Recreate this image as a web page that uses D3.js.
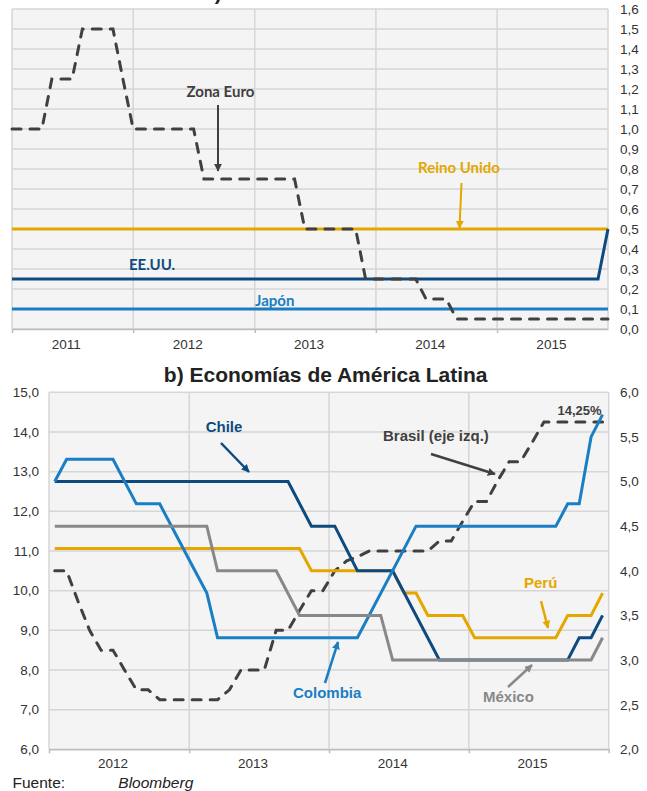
<!DOCTYPE html>
<html>
<head>
<meta charset="utf-8">
<script src="https://cdn.jsdelivr.net/npm/d3@7"></script>
<style>
  body { margin: 0; background: #fff; }
  svg { display: block; }
  .tick text { font-family: "Liberation Sans", Arial, sans-serif; font-size: 13.5px; fill: #333; }
</style>
</head>
<body>
<div id="chart"></div>
<script>
// ******************** data ********************

// a) developed economies, monthly points where the rate changes (Jan 2011 - Dec 2015)
const zonaEuro = [["2011-01", 1.0], ["2011-04", 1.0], ["2011-05", 1.25], ["2011-07", 1.25], ["2011-08", 1.5],
    ["2011-11", 1.5], ["2011-12", 1.25], ["2012-01", 1.0], ["2012-07", 1.0], ["2012-08", 0.75],
    ["2013-05", 0.75], ["2013-06", 0.5], ["2013-11", 0.5], ["2013-12", 0.25], ["2014-05", 0.25],
    ["2014-06", 0.15], ["2014-08", 0.15], ["2014-09", 0.05], ["2015-12", 0.05]];
const reinoUnido = [["2011-01", 0.5], ["2015-12", 0.5]];
const eeuu = [["2011-01", 0.25], ["2015-11", 0.25], ["2015-12", 0.5]];
const japon = [["2011-01", 0.1], ["2015-12", 0.1]];

// b) Latin America, monthly (Jan 2012 - Dec 2015); Brasil on left axis, others on right
const brasil = [["2012-01", 10.5], ["2012-02", 10.5], ["2012-03", 9.75], ["2012-04", 9.0], ["2012-05", 8.5],
    ["2012-06", 8.5], ["2012-07", 8.0], ["2012-08", 7.5], ["2012-09", 7.5], ["2012-10", 7.25],
    ["2013-03", 7.25], ["2013-04", 7.5], ["2013-05", 8.0], ["2013-07", 8.0], ["2013-08", 9.0],
    ["2013-09", 9.0], ["2013-10", 9.5], ["2013-11", 10.0], ["2013-12", 10.0], ["2014-01", 10.5],
    ["2014-02", 10.75], ["2014-03", 10.85], ["2014-04", 11.0], ["2014-09", 11.0], ["2014-10", 11.25],
    ["2014-11", 11.25], ["2014-12", 11.75], ["2015-01", 12.25], ["2015-02", 12.25], ["2015-03", 12.75],
    ["2015-04", 13.25], ["2015-05", 13.25], ["2015-06", 13.75], ["2015-07", 14.25], ["2015-12", 14.25]];
const chile = [["2012-01", 5.0], ["2013-09", 5.0], ["2013-11", 4.5], ["2014-01", 4.5], ["2014-03", 4.0],
    ["2014-06", 4.0], ["2014-10", 3.0], ["2015-09", 3.0], ["2015-10", 3.25], ["2015-11", 3.25], ["2015-12", 3.5]];
const colombia = [["2012-01", 5.0], ["2012-02", 5.25], ["2012-06", 5.25], ["2012-08", 4.75], ["2012-10", 4.75],
    ["2013-01", 4.0], ["2013-02", 3.75], ["2013-03", 3.25], ["2014-03", 3.25], ["2014-08", 4.5],
    ["2015-08", 4.5], ["2015-09", 4.75], ["2015-10", 4.75], ["2015-11", 5.5], ["2015-12", 5.75]];
const mexico = [["2012-01", 4.5], ["2013-02", 4.5], ["2013-03", 4.0], ["2013-08", 4.0], ["2013-10", 3.5],
    ["2014-05", 3.5], ["2014-06", 3.0], ["2015-11", 3.0], ["2015-12", 3.25]];
const peru = [["2012-01", 4.25], ["2013-10", 4.25], ["2013-11", 4.0], ["2014-06", 4.0], ["2014-07", 3.75],
    ["2014-08", 3.75], ["2014-09", 3.5], ["2014-12", 3.5], ["2015-01", 3.25], ["2015-08", 3.25],
    ["2015-09", 3.5], ["2015-11", 3.5], ["2015-12", 3.75]];

// axis ticks
const topYTicks = [0, 0.1, 0.2, 0.3, 0.4, 0.5, 0.6, 0.7, 0.8, 0.9, 1.0, 1.1, 1.2, 1.3, 1.4, 1.5, 1.6];
const topYears = ["2011", "2012", "2013", "2014", "2015"];
const botLeftTicks = [6, 7, 8, 9, 10, 11, 12, 13, 14, 15];
const botRightTicks = [2, 2.5, 3, 3.5, 4, 4.5, 5, 5.5, 6];
const botYears = ["2012", "2013", "2014", "2015"];

// colours
const cNavy = "#0d4a80", cBlue = "#1a7ec3", cGold = "#e3a700", cGrey = "#888888", cDash = "#404040";
const gridColor = "#d6d6d6", plotBg = "#f4f4f4";

// ******************** setup ********************
const svg = d3.select("#chart").append("svg")
    .attr("width", 647)
    .attr("height", 791);

const locale = d3.formatLocale({ decimal: ",", thousands: ".", grouping: [3], currency: ["", ""] });
const fmt1 = locale.format(".1f");
const parseMonth = d3.timeParse("%Y-%m");
const parseDay = d3.timeParse("%Y-%m-%d");

// arrow heads, one per colour
const defs = svg.append("defs");
function arrowId(color) {
    const id = "arr" + color.replace("#", "");
    if (defs.select("#" + id).empty()) {
        defs.append("marker")
            .attr("id", id)
            .attr("viewBox", "0 0 10 10")
            .attr("refX", 9).attr("refY", 5)
            .attr("markerWidth", 8).attr("markerHeight", 8)
            .attr("markerUnits", "userSpaceOnUse")
            .attr("orient", "auto")
            .append("path")
            .attr("d", "M0,0 L10,5 L0,10 Z")
            .attr("fill", color);
    }
    return "url(#" + id + ")";
}

function arrow(x1, y1, x2, y2, color, w) {
    svg.append("line")
        .attr("x1", x1).attr("y1", y1)
        .attr("x2", x2).attr("y2", y2)
        .attr("stroke", color)
        .attr("stroke-width", w)
        .attr("marker-end", arrowId(color));
}

function label(x, y, txt, color, font, size, anchor) {
    svg.append("text")
        .attr("x", x).attr("y", y)
        .attr("text-anchor", anchor || "start")
        .attr("font-family", font)
        .attr("font-weight", "bold")
        .attr("font-size", size)
        .attr("fill", color)
        .text(txt);
}

const arial = "'Liberation Sans', Arial, sans-serif";
const calibriLike = "Lato, 'Open Sans', sans-serif";

// ******************** part a) developed economies ********************
const A = { left: 12, right: 608, top: 9, bottom: 329 };

const xA = d3.scaleTime()
    .domain([parseMonth("2011-01"), parseMonth("2015-12")])
    .range([A.left, A.right]);
const yA = d3.scaleLinear().domain([0, 1.6]).range([A.bottom, A.top]);

// title: the picture is cropped just under it, only the tail of ")" shows
svg.append("text")
    .attr("x", 203).attr("y", 0)
    .attr("font-family", arial)
    .attr("font-weight", "bold")
    .attr("font-size", 21)
    .attr("fill", "#222")
    .text("a) Economías desarrolladas");

svg.append("rect")
    .attr("x", A.left).attr("y", A.top)
    .attr("width", A.right - A.left).attr("height", A.bottom - A.top)
    .attr("fill", plotBg);

// horizontal gridlines
svg.append("g").selectAll("line")
    .data(topYTicks)
    .enter().append("line")
    .attr("x1", A.left).attr("x2", A.right)
    .attr("y1", d => yA(d)).attr("y2", d => yA(d))
    .attr("stroke", gridColor).attr("stroke-width", 1.5);

// vertical gridlines at year boundaries
svg.append("g").selectAll("line")
    .data(topYears.map(y => parseMonth(y + "-01")).concat([parseMonth("2015-12")]))
    .enter().append("line")
    .attr("x1", d => xA(d)).attr("x2", d => xA(d))
    .attr("y1", A.top).attr("y2", A.bottom)
    .attr("stroke", gridColor).attr("stroke-width", 1.5);

// x axis: tick marks at year boundaries, labels mid-year
const gxA = svg.append("g")
    .attr("transform", `translate(0,${A.bottom})`)
    .call(d3.axisBottom(xA)
        .tickValues(topYears.map(y => parseMonth(y + "-01")))
        .tickSize(4).tickSizeOuter(0).tickFormat(""));
gxA.selectAll("path, line").attr("stroke", "#bdbdbd").attr("stroke-width", 1.5);

const gxAl = svg.append("g")
    .attr("transform", `translate(0,${A.bottom})`)
    .call(d3.axisBottom(xA)
        .tickValues(topYears.map(y => parseDay(y + "-06-12")))
        .tickSize(0).tickPadding(10.4).tickFormat(d3.timeFormat("%Y")));
gxAl.select(".domain").remove();

// right axis labels
const gyA = svg.append("g")
    .attr("transform", `translate(${A.right},0)`)
    .call(d3.axisRight(yA).tickValues(topYTicks).tickSize(0).tickPadding(12).tickFormat(fmt1));
gyA.select(".domain").remove();

// series
const lineA = d3.line()
    .x(d => xA(parseMonth(d[0])))
    .y(d => yA(d[1]));

svg.append("path").datum(reinoUnido)
    .attr("fill", "none").attr("stroke", cGold).attr("stroke-width", 3).attr("d", lineA);
svg.append("path").datum(eeuu)
    .attr("fill", "none").attr("stroke", cNavy).attr("stroke-width", 3).attr("d", lineA);
svg.append("path").datum(japon)
    .attr("fill", "none").attr("stroke", cBlue).attr("stroke-width", 3).attr("d", lineA);
svg.append("path").datum(zonaEuro)
    .attr("fill", "none").attr("stroke", cDash).attr("stroke-width", 3)
    .attr("stroke-dasharray", "9,9").attr("stroke-linecap", "round")
    .attr("d", lineA);

// annotations
label(186.5, 96.5, "Zona Euro", cDash, calibriLike, 15);
arrow(218, 105, 218, 171, cDash, 2);
label(418, 173, "Reino Unido", cGold, calibriLike, 15);
arrow(461.5, 183, 459.5, 228, cGold, 2);
label(129, 270, "EE.UU.", cNavy, calibriLike, 15);
label(255, 306, "Japón", cBlue, calibriLike, 15);

// ******************** part b) Latin America ********************
const B = { left: 49, right: 608.7, top: 392.3, bottom: 749.3 };

const xB = d3.scaleTime()
    .domain([parseMonth("2012-01"), parseMonth("2016-01")])
    .range([B.left, B.right]);
const yL = d3.scaleLinear().domain([6, 15]).range([B.bottom, B.top]);
const yR = d3.scaleLinear().domain([2, 6]).range([B.bottom, B.top]);
// monthly points sit in the middle of their month
const midMonth = s => d3.timeDay.offset(parseMonth(s), 15);

svg.append("text")
    .attr("x", 325.7).attr("y", 382)
    .attr("text-anchor", "middle")
    .attr("font-family", arial)
    .attr("font-weight", "bold")
    .attr("font-size", 21)
    .attr("fill", "#222")
    .text("b) Economías de América Latina");

svg.append("rect")
    .attr("x", B.left).attr("y", B.top)
    .attr("width", B.right - B.left).attr("height", B.bottom - B.top)
    .attr("fill", plotBg);

svg.append("g").selectAll("line")
    .data(botLeftTicks)
    .enter().append("line")
    .attr("x1", B.left).attr("x2", B.right)
    .attr("y1", d => yL(d)).attr("y2", d => yL(d))
    .attr("stroke", gridColor).attr("stroke-width", 1.5);

svg.append("g").selectAll("line")
    .data(["2012", "2013", "2014", "2015", "2016"].map(y => parseMonth(y + "-01")))
    .enter().append("line")
    .attr("x1", d => xB(d)).attr("x2", d => xB(d))
    .attr("y1", B.top).attr("y2", B.bottom)
    .attr("stroke", gridColor).attr("stroke-width", 1.5);

const gxB = svg.append("g")
    .attr("transform", `translate(0,${B.bottom})`)
    .call(d3.axisBottom(xB)
        .tickValues(["2012", "2013", "2014", "2015", "2016"].map(y => parseMonth(y + "-01")))
        .tickSize(4).tickSizeOuter(0).tickFormat(""));
gxB.selectAll("path, line").attr("stroke", "#bdbdbd").attr("stroke-width", 1.5);

const gxBl = svg.append("g")
    .attr("transform", `translate(0,${B.bottom})`)
    .call(d3.axisBottom(xB)
        .tickValues(botYears.map(y => parseDay(y + "-06-15")))
        .tickSize(0).tickPadding(9.4).tickFormat(d3.timeFormat("%Y")));
gxBl.select(".domain").remove();

const gyL = svg.append("g")
    .attr("transform", `translate(${B.left},0)`)
    .call(d3.axisLeft(yL).tickValues(botLeftTicks).tickSize(0).tickPadding(10).tickFormat(fmt1));
gyL.select(".domain").remove();

const gyR = svg.append("g")
    .attr("transform", `translate(${B.right},0)`)
    .call(d3.axisRight(yR).tickValues(botRightTicks).tickSize(0).tickPadding(11.3).tickFormat(fmt1));
gyR.select(".domain").remove();

const lineL = d3.line().x(d => xB(midMonth(d[0]))).y(d => yL(d[1]));
const lineR = d3.line().x(d => xB(midMonth(d[0]))).y(d => yR(d[1]));

svg.append("path").datum(brasil)
    .attr("fill", "none").attr("stroke", cDash).attr("stroke-width", 3)
    .attr("stroke-dasharray", "9,9").attr("stroke-linecap", "round")
    .attr("d", lineL);
svg.append("path").datum(peru)
    .attr("fill", "none").attr("stroke", cGold).attr("stroke-width", 3).attr("d", lineR);
svg.append("path").datum(chile)
    .attr("fill", "none").attr("stroke", cNavy).attr("stroke-width", 3).attr("d", lineR);
svg.append("path").datum(colombia)
    .attr("fill", "none").attr("stroke", cBlue).attr("stroke-width", 3).attr("d", lineR);
svg.append("path").datum(mexico)
    .attr("fill", "none").attr("stroke", cGrey).attr("stroke-width", 3).attr("d", lineR);

// annotations
label(224, 432, "Chile", cNavy, arial, 15, "middle");
arrow(221, 443, 249, 472, cNavy, 2.5);
label(383, 441, "Brasil (eje izq.)", cDash, arial, 15);
arrow(431, 454, 495, 474, cDash, 2.5);
label(557.5, 415, "14,25%", cDash, arial, 13);
label(293, 698, "Colombia", cBlue, arial, 15);
arrow(325, 683, 338, 642, cBlue, 2.5);
label(483, 701.5, "México", cGrey, arial, 15);
arrow(508, 687, 532, 665, cGrey, 2.5);
label(524, 588, "Perú", cGold, arial, 15);
arrow(541, 601, 548, 628, cGold, 2.5);

// source line
svg.append("text")
    .attr("x", 12.5).attr("y", 788)
    .attr("font-family", arial).attr("font-size", 15.5).attr("fill", "#222")
    .text("Fuente:");
svg.append("text")
    .attr("x", 118.3).attr("y", 788)
    .attr("font-family", arial).attr("font-size", 15.5).attr("font-style", "italic").attr("fill", "#222")
    .text("Bloomberg");
</script>
</body>
</html>
